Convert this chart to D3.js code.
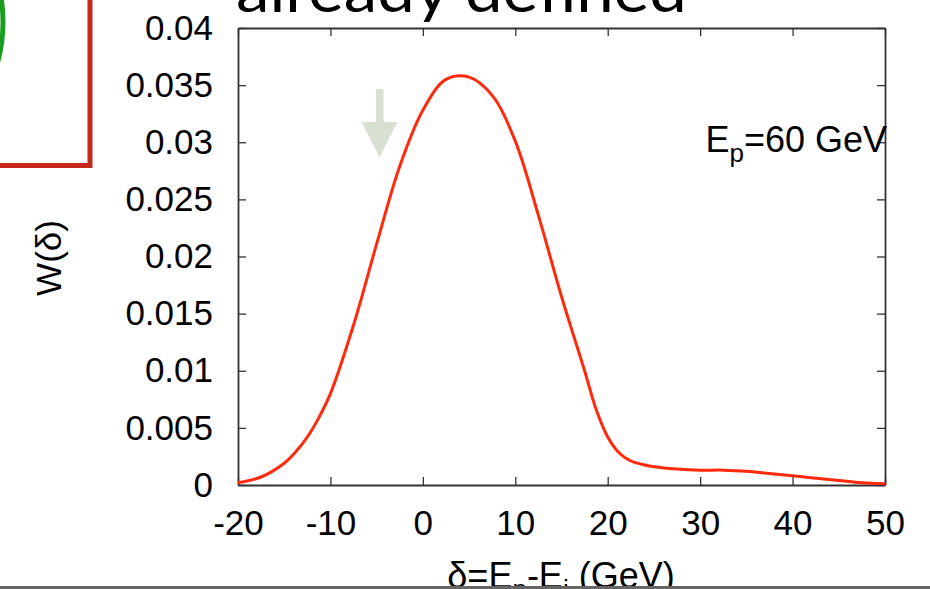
<!DOCTYPE html>
<html>
<head>
<meta charset="utf-8">
<script src="https://cdn.jsdelivr.net/npm/d3@7"></script>
<style>
  body { margin: 0; background: #fff; }
  svg { display: block; }
  text { font-family: "Liberation Sans", Arial, sans-serif; fill: #000; }
</style>
</head>
<body>
<svg width="930" height="589"></svg>
<script>
/* data */
var deltaVals = [-20, -17.5, -15, -13.75, -12.5, -11.25, -10, -7.5, -5, -2.5, 0, 2.5, 5, 7.5, 10, 12.5, 15, 17.5,
                 18.75, 20, 21.25, 22.5, 23.75, 25, 27.5, 30, 32.5, 35, 37.5, 40, 42.5, 45, 47.5, 50];
var wVals = [0.0002, 0.0007, 0.0019, 0.0029, 0.0042, 0.0059, 0.0080, 0.0140, 0.0211, 0.0279, 0.0328, 0.0355, 0.0357, 0.0341, 0.0301, 0.0236, 0.0165, 0.0100,
             0.0066, 0.0042, 0.0028, 0.0021, 0.0018, 0.0016, 0.0014, 0.0013, 0.0013, 0.0012, 0.0010, 0.0008, 0.0006, 0.0004, 0.0002, 0.0001];
var xTicks = [-20, -10, 0, 10, 20, 30, 40, 50];
var xTickLabels = ["-20", "-10", "0", "10", "20", "30", "40", "50"];
var yTicks = [0, 0.005, 0.01, 0.015, 0.02, 0.025, 0.03, 0.035, 0.04];
var yTickLabels = ["0", "0.005", "0.01", "0.015", "0.02", "0.025", "0.03", "0.035", "0.04"];

var svg = d3.select("svg");

var plotL = 238, plotR = 885, plotT = 28, plotB = 485;

var x = d3.scaleLinear().domain([-20, 50]).range([plotL, plotR]);
var y = d3.scaleLinear().domain([0, 0.04]).range([plotB, plotT]);

/* slide decorations */
svg.append("circle")
  .attr("cx", -150).attr("cy", 22).attr("r", 153)
  .attr("fill", "none").attr("stroke", "#1a9d1e").attr("stroke-width", 5);

svg.append("rect")
  .attr("x", -20).attr("y", -20).attr("width", 110).attr("height", 185.5)
  .attr("fill", "none").attr("stroke", "#c2291b").attr("stroke-width", 5);

svg.append("text")
  .attr("x", 236).attr("y", 12)
  .attr("textLength", 451).attr("lengthAdjust", "spacingAndGlyphs")
  .style("font-family", "Lato, 'Open Sans', sans-serif")
  .style("font-size", "60px")
  .text("already defined");

// pale arrow
var arrow = d3.path();
arrow.moveTo(376, 89); arrow.lineTo(383.5, 89); arrow.lineTo(383.5, 122);
arrow.lineTo(397.5, 122); arrow.lineTo(379.5, 157); arrow.lineTo(361.5, 122);
arrow.lineTo(376, 122); arrow.closePath();
svg.append("path").attr("d", arrow.toString()).attr("fill", "#d8e0d2");

/* axes */
var fontSize = 35;

var gx = svg.append("g")
  .attr("transform", "translate(0," + plotB + ")")
  .call(d3.axisBottom(x).tickValues(xTicks).tickSizeInner(-8).tickSizeOuter(0).tickPadding(25)
    .tickFormat((d, i) => xTickLabels[i]));

var gxTop = svg.append("g")
  .attr("transform", "translate(0," + plotT + ")")
  .call(d3.axisTop(x).tickValues(xTicks).tickSizeInner(-8).tickSizeOuter(0).tickFormat(""));

var gy = svg.append("g")
  .attr("transform", "translate(" + plotL + ",0)")
  .call(d3.axisLeft(y).tickValues(yTicks).tickSizeInner(-8).tickSizeOuter(0).tickPadding(25)
    .tickFormat((d, i) => yTickLabels[i]));

var gyRight = svg.append("g")
  .attr("transform", "translate(" + plotR + ",0)")
  .call(d3.axisRight(y).tickValues(yTicks).tickSizeInner(-8).tickSizeOuter(0).tickFormat(""));

[gx, gxTop, gy, gyRight].forEach(g => {
  g.selectAll(".domain").attr("stroke", "#333").attr("stroke-width", 1.8);
  g.selectAll(".tick line").attr("stroke", "#333").attr("stroke-width", 1.3);
  g.selectAll("text")
    .style("font-family", "'Liberation Sans', Arial, sans-serif")
    .style("font-size", fontSize + "px")
    .attr("fill", "#000");
});

/* curve */
var line = d3.line()
  .x((d, i) => x(deltaVals[i]))
  .y(d => y(d))
  .curve(d3.curveCatmullRom.alpha(0.5));

svg.append("path")
  .datum(wVals)
  .attr("d", line)
  .attr("fill", "none")
  .attr("stroke", "#ff2a0c")
  .attr("stroke-width", 3);

/* labels */
var ep = svg.append("text")
  .attr("x", 887).attr("y", 152)
  .attr("text-anchor", "end")
  .style("font-size", "36px");
ep.append("tspan").text("E");
ep.append("tspan").attr("dy", 10).style("font-size", "26px").text("p");
ep.append("tspan").attr("dy", -10).text("=60 GeV");

svg.append("text")
  .attr("transform", "translate(48,258) rotate(-90)")
  .attr("text-anchor", "middle")
  .attr("dominant-baseline", "central")
  .style("font-size", "35px")
  .text("W(δ)");

var xl = svg.append("text")
  .attr("x", 561).attr("y", 588)
  .attr("text-anchor", "middle")
  .style("font-size", "36px");
xl.append("tspan").text("δ=E");
xl.append("tspan").attr("dy", 10).style("font-size", "26px").text("p");
xl.append("tspan").attr("dy", -10).text("-E");
xl.append("tspan").attr("dy", 10).style("font-size", "26px").text("i");
xl.append("tspan").attr("dy", -10).text(" (GeV)");

// slide footer rule
svg.append("rect")
  .attr("x", 0).attr("y", 586).attr("width", 930).attr("height", 3)
  .attr("fill", "#666");
</script>
</body>
</html>
